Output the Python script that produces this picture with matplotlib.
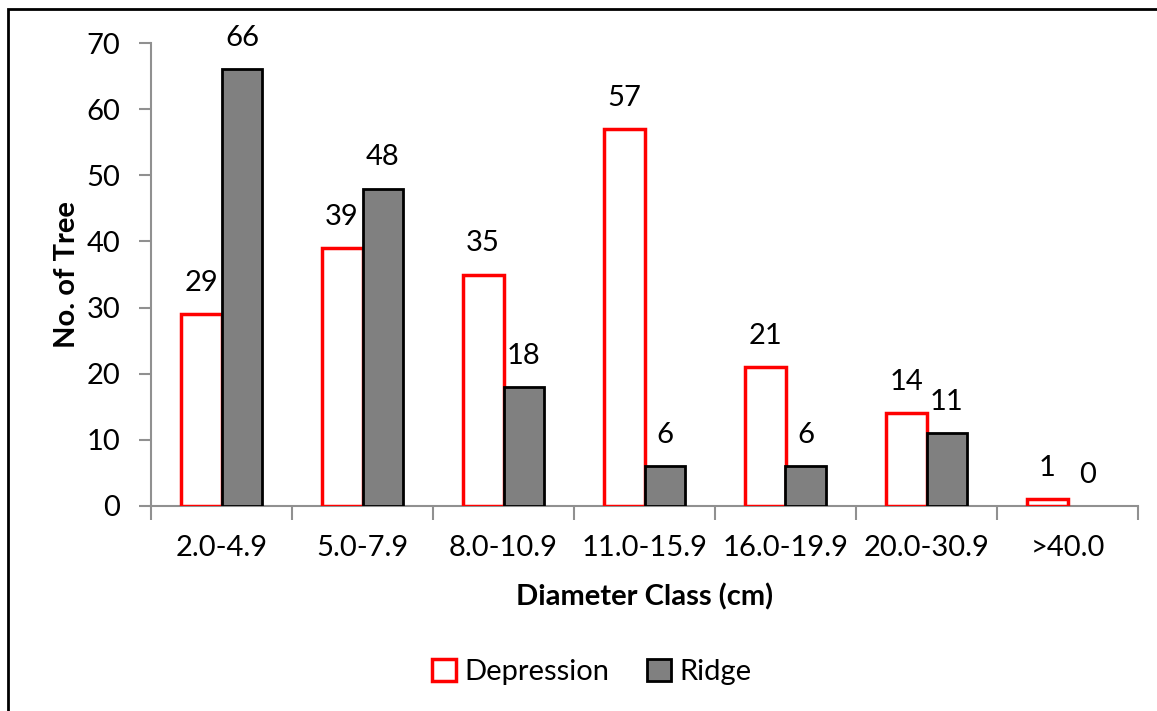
import matplotlib
matplotlib.use("Agg")
import matplotlib.pyplot as plt
import numpy as np
from matplotlib.patches import Rectangle

categories = ["2.0-4.9", "5.0-7.9", "8.0-10.9", "11.0-15.9", "16.0-19.9", "20.0-30.9", ">40.0"]
depression = [29, 39, 35, 57, 21, 14, 1]
ridge = [66, 48, 18, 6, 6, 11, 0]

plt.rcParams['font.family'] = ['Lato', 'DejaVu Sans']

fig = plt.figure(figsize=(11.57, 7.11), dpi=100)
ax = fig.add_axes([151/1157, 1-506/711, (1138-151)/1157, (506-43)/711])

# outer frame
fig.patches.append(Rectangle((8/1157, -0.05), 1.2, 1-9/711+0.05, transform=fig.transFigure,
                             fill=False, edgecolor='black', linewidth=2.0))

x = np.arange(len(categories))
w = 0.29
b1 = ax.bar(x - w/2, depression, w, facecolor='white', edgecolor='#ff0000', linewidth=2.5, label='Depression')
b2 = ax.bar(x + w/2, ridge, w, facecolor='#808080', edgecolor='black', linewidth=2.0, label='Ridge')
for p, v in zip(b2, ridge):
    if v == 0:
        p.set_visible(False)

fs = 21
for xi, v in zip(x - w/2, depression):
    ax.annotate(str(v), (xi, v), xytext=(0, 13), textcoords='offset points', ha='center', va='bottom', fontsize=fs)
for xi, v in zip(x + w/2, ridge):
    ax.annotate(str(v), (xi, v), xytext=(0, 13), textcoords='offset points', ha='center', va='bottom', fontsize=fs)

ax.set_xlim(-0.5, len(categories) - 0.5)
ax.set_ylim(0, 70)
ax.set_yticks(range(0, 71, 10))
ax.set_xticks(x)
ax.set_xticklabels(categories, fontsize=fs)
ax.set_xticks(np.arange(-0.5, len(categories)), minor=True)
ax.tick_params(axis='x', which='major', length=0, pad=21)
ax.tick_params(axis='x', which='minor', length=10, color='#909090', width=1.5)
ax.tick_params(axis='y', length=9, color='#909090', width=1.5, labelsize=fs, pad=13)

for s in ['top', 'right']:
    ax.spines[s].set_visible(False)
for s in ['left', 'bottom']:
    ax.spines[s].set_color('#909090')
    ax.spines[s].set_linewidth(1.5)
ax.spines['bottom'].set_zorder(0.5)

ax.set_xlabel('Diameter Class (cm)', fontsize=21, fontweight='bold', labelpad=16)
ax.set_ylabel('No. of Tree', fontsize=21, fontweight='bold', labelpad=5)

leg = fig.legend(handles=[b1, b2], loc='center', bbox_to_anchor=(592/1157, 1-672/711), ncol=2,
                 frameon=False, fontsize=fs, handlelength=0.8, handleheight=0.8,
                 handletextpad=0.3, columnspacing=1.3)

fig.savefig('out.png', dpi=100)
